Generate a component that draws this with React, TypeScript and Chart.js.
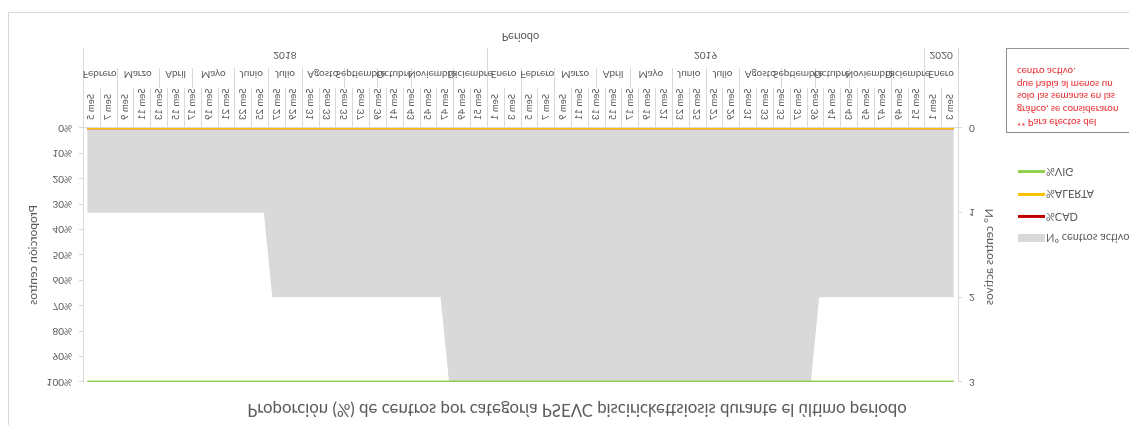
import React, { useEffect, useRef } from "react";
import { Chart, registerables } from "chart.js";

Chart.register(...registerables);

// ---------- text ----------
const chartTitle =
  "Proporción (%) de centros por categoría PSEVC piscirickettsiosis durante el último periodo";
const xTitle = "Periodo";
const yTitle = "Proporción centros";
const y1Title = "N° centros activos";
const noteLines = [
  "** Para efectos del",
  "gráfico, se consideraron",
  "solo las semanas en las",
  "que había al menos un",
  "centro activo.",
];

// ---------- categories (year / month / ISO week) ----------
const years = ["2018", "2019", "2020"];
const months2018 = ["Febrero", "Marzo", "Abril", "Mayo", "Junio", "Julio", "Agosto", "Septiembre", "Octubre", "Noviembre", "Diciembre"];
const weeks2018 = [
  [5, 6, 7, 8], [9, 10, 11, 12, 13], [14, 15, 16, 17], [18, 19, 20, 21, 22], [23, 24, 25, 26],
  [27, 28, 29, 30], [31, 32, 33, 34, 35], [36, 37, 38, 39], [40, 41, 42, 43], [44, 45, 46, 47, 48], [49, 50, 51, 52],
];
const months2019 = ["Enero", "Febrero", "Marzo", "Abril", "Mayo", "Junio", "Julio", "Agosto", "Septiembre", "Octubre", "Noviembre", "Diciembre"];
const weeks2019 = [
  [1, 2, 3, 4], [5, 6, 7, 8], [9, 10, 11, 12, 13], [14, 15, 16, 17], [18, 19, 20, 21, 22], [23, 24, 25, 26],
  [27, 28, 29, 30], [31, 32, 33, 34, 35], [36, 37, 38, 39], [40, 41, 42, 43], [44, 45, 46, 47, 48], [49, 50, 51, 52],
];
const months2020 = ["Enero"];
const weeks2020 = [[1, 2, 3, 4]];

// ---------- series ----------
const centrosActivos = [
  1, 1, 1, 1, 1, 1, 1, 1, 1, 1, 1, 1, 1, 1, 1, 1, 1, 1, 1, 1, 1, 1,
  2, 2, 2, 2, 2, 2, 2, 2, 2, 2, 2, 2, 2, 2, 2, 2, 2, 2, 2, 2, 2,
  3, 3, 3, 3, 3, 3, 3, 3, 3, 3, 3, 3, 3, 3, 3, 3, 3, 3, 3, 3, 3, 3,
  3, 3, 3, 3, 3, 3, 3, 3, 3, 3, 3, 3, 3, 3, 3, 3, 3, 3, 3, 3, 3, 3,
  2, 2, 2, 2, 2, 2, 2, 2, 2, 2, 2, 2, 2, 2, 2, 2, 2,
];
const pctVIG = [
  100, 100, 100, 100, 100, 100, 100, 100, 100, 100, 100, 100, 100, 100, 100, 100, 100, 100, 100, 100, 100, 100, 100, 100, 100, 100,
  100, 100, 100, 100, 100, 100, 100, 100, 100, 100, 100, 100, 100, 100, 100, 100, 100, 100, 100, 100, 100, 100, 100, 100, 100, 100,
  100, 100, 100, 100, 100, 100, 100, 100, 100, 100, 100, 100, 100, 100, 100, 100, 100, 100, 100, 100, 100, 100, 100, 100, 100, 100,
  100, 100, 100, 100, 100, 100, 100, 100, 100, 100, 100, 100, 100, 100, 100, 100, 100, 100, 100, 100, 100, 100, 100, 100, 100, 100,
];
const pctALERTA = [
  0, 0, 0, 0, 0, 0, 0, 0, 0, 0, 0, 0, 0, 0, 0, 0, 0, 0, 0, 0, 0, 0, 0, 0, 0, 0,
  0, 0, 0, 0, 0, 0, 0, 0, 0, 0, 0, 0, 0, 0, 0, 0, 0, 0, 0, 0, 0, 0, 0, 0, 0, 0,
  0, 0, 0, 0, 0, 0, 0, 0, 0, 0, 0, 0, 0, 0, 0, 0, 0, 0, 0, 0, 0, 0, 0, 0, 0, 0,
  0, 0, 0, 0, 0, 0, 0, 0, 0, 0, 0, 0, 0, 0, 0, 0, 0, 0, 0, 0, 0, 0, 0, 0, 0, 0,
];
const pctCAD = [
  0, 0, 0, 0, 0, 0, 0, 0, 0, 0, 0, 0, 0, 0, 0, 0, 0, 0, 0, 0, 0, 0, 0, 0, 0, 0,
  0, 0, 0, 0, 0, 0, 0, 0, 0, 0, 0, 0, 0, 0, 0, 0, 0, 0, 0, 0, 0, 0, 0, 0, 0, 0,
  0, 0, 0, 0, 0, 0, 0, 0, 0, 0, 0, 0, 0, 0, 0, 0, 0, 0, 0, 0, 0, 0, 0, 0, 0, 0,
  0, 0, 0, 0, 0, 0, 0, 0, 0, 0, 0, 0, 0, 0, 0, 0, 0, 0, 0, 0, 0, 0, 0, 0, 0, 0,
];

// ---------- build category table ----------
type Cat = { year: string; month: string; week: number };
const yearTable: [string, string[], number[][]][] = [
  [years[0], months2018, weeks2018],
  [years[1], months2019, weeks2019],
  [years[2], months2020, weeks2020],
];
const cats: Cat[] = [];
yearTable.forEach(([y, ms, ws]) => ms.forEach((m, i) => ws[i].forEach((w) => cats.push({ year: y, month: m, week: w }))));
const weekLabels = cats.map((c) => "Sem " + c.week);

const TEXT = "#595959";
const LINE = "#d9d9d9";
const FONT = "Lato";

const W = 1129;
const H = 425;

const axisPlugin = {
  id: "multiLevelAxis",
  afterDraw(chart: any) {
    const ctx = chart.ctx as CanvasRenderingContext2D;
    const xs = chart.scales.x;
    const area = chart.chartArea;
    const n = cats.length;
    const half = (xs.getPixelForValue(1) - xs.getPixelForValue(0)) / 2;
    const bnd = (i: number) => (i >= n ? xs.getPixelForValue(n - 1) + half : xs.getPixelForValue(i) - half);
    const px = (v: number) => Math.round(v) + 0.5;
    const base = area.bottom;
    const weekRowEnd = base + 40;
    const monthRowEnd = base + 60;
    const yearRowEnd = base + 80;

    ctx.save();
    ctx.strokeStyle = LINE;
    ctx.lineWidth = 1;
    ctx.beginPath();
    // week separators (every second week)
    for (let i = 0; i <= n; i += 2) {
      ctx.moveTo(px(bnd(i)), base);
      ctx.lineTo(px(bnd(i)), weekRowEnd);
    }
    const monthStarts: number[] = [];
    const yearStarts: number[] = [];
    cats.forEach((c, i) => {
      if (i === 0 || c.month !== cats[i - 1].month || c.year !== cats[i - 1].year) monthStarts.push(i);
      if (i === 0 || c.year !== cats[i - 1].year) yearStarts.push(i);
    });
    monthStarts.push(n);
    yearStarts.push(n);
    monthStarts.forEach((i) => {
      ctx.moveTo(px(bnd(i)), weekRowEnd);
      ctx.lineTo(px(bnd(i)), monthRowEnd);
    });
    yearStarts.forEach((i) => {
      ctx.moveTo(px(bnd(i)), base);
      ctx.lineTo(px(bnd(i)), yearRowEnd);
    });
    ctx.stroke();

    ctx.fillStyle = TEXT;
    // week labels
    ctx.font = `9.5px ${FONT}`;
    ctx.textAlign = "right";
    ctx.textBaseline = "middle";
    for (let i = 0; i < n; i += 2) {
      ctx.save();
      ctx.translate(bnd(i + 1), base + 8);
      ctx.rotate(-Math.PI / 2);
      ctx.fillText(weekLabels[i], 0, 0);
      ctx.restore();
    }
    // month labels
    ctx.font = `10px ${FONT}`;
    ctx.textAlign = "center";
    for (let k = 0; k < monthStarts.length - 1; k++) {
      const a = monthStarts[k];
      const b = monthStarts[k + 1];
      ctx.fillText(cats[a].month, (bnd(a) + bnd(b)) / 2, base + 54);
    }
    // year labels
    for (let k = 0; k < yearStarts.length - 1; k++) {
      const a = yearStarts[k];
      const b = yearStarts[k + 1];
      ctx.fillText(cats[a].year, (bnd(a) + bnd(b)) / 2, base + 73);
    }
    // axis titles
    ctx.font = `11px ${FONT}`;
    ctx.fillText(xTitle, (area.left + area.right) / 2, base + 91);
    const midY = (area.top + area.bottom) / 2;
    ctx.font = `12px ${FONT}`;
    ctx.save();
    ctx.translate(33, midY);
    ctx.rotate(-Math.PI / 2);
    ctx.fillText(yTitle, 0, 0);
    ctx.restore();
    ctx.save();
    ctx.translate(989, midY - 2);
    ctx.rotate(-Math.PI / 2);
    ctx.fillText(y1Title, 0, 0);
    ctx.restore();
    // chart title
    ctx.font = `16.8px ${FONT}`;
    ctx.fillText(chartTitle, 577, 16);
    ctx.restore();
  },
};

const legendItems = [
  { label: "N° centros activos", color: "#d9d9d9", box: true, y: 186.7 },
  { label: "%CAD", color: "#c00000", box: false, y: 208.3 },
  { label: "%ALERTA", color: "#ffc000", box: false, y: 230.7 },
  { label: "%VIG", color: "#92d050", box: false, y: 253.3 },
];

export default function App() {
  const ref = useRef<HTMLCanvasElement>(null);

  useEffect(() => {
    if (!ref.current) return;
    Chart.defaults.font.family = FONT;
    const chart = new Chart(ref.current, {
      type: "line",
      data: {
        labels: weekLabels,
        datasets: [
          {
            label: "%VIG",
            data: pctVIG,
            yAxisID: "y",
            borderColor: "#92d050",
            backgroundColor: "#92d050",
            borderWidth: 2.75,
            pointRadius: 0,
            fill: false,
            order: 1,
          },
          {
            label: "%ALERTA",
            data: pctALERTA,
            yAxisID: "y",
            borderColor: "#ffc000",
            backgroundColor: "#ffc000",
            borderWidth: 2.75,
            pointRadius: 0,
            fill: false,
            order: 2,
          },
          {
            label: "%CAD",
            data: pctCAD,
            yAxisID: "y",
            borderColor: "#c00000",
            backgroundColor: "#c00000",
            borderWidth: 2.75,
            pointRadius: 0,
            fill: false,
            order: 3,
          },
          {
            label: "N° centros activos",
            data: centrosActivos,
            yAxisID: "y1",
            borderColor: "#d9d9d9",
            backgroundColor: "#d9d9d9",
            borderWidth: 0,
            pointRadius: 0,
            fill: "origin",
            order: 10,
          },
        ],
      },
      options: {
        animation: false,
        responsive: false,
        devicePixelRatio: 1,
        layout: { padding: { top: 43, left: 0, right: 0, bottom: 0 } },
        plugins: {
          legend: { display: false },
          tooltip: { enabled: false },
          title: { display: false },
        },
        elements: { line: { tension: 0 } },
        scales: {
          x: {
            type: "category",
            offset: true,
            grid: { display: true, drawOnChartArea: false, drawTicks: false, color: LINE },
            border: { display: true, color: LINE },
            ticks: { display: false },
            afterFit: (s: any) => {
              s.height = 128;
            },
          },
          y: {
            position: "left",
            min: 0,
            max: 100,
            ticks: {
              stepSize: 10,
              callback: (v: any) => v + "%",
              color: TEXT,
              font: { family: FONT, size: 10 },
              padding: 7,
            },
            grid: { drawOnChartArea: false, drawTicks: true, tickLength: 4, color: LINE },
            border: { display: true, color: LINE },
            afterFit: (s: any) => {
              s.width = 83;
            },
          },
          y1: {
            position: "right",
            min: 0,
            max: 3,
            ticks: {
              stepSize: 1,
              color: TEXT,
              font: { family: FONT, size: 10 },
              padding: 7,
            },
            grid: { drawOnChartArea: false, drawTicks: true, tickLength: 4, color: LINE },
            border: { display: true, color: LINE },
            afterFit: (s: any) => {
              s.width = 171;
            },
          },
        },
      } as any,
      plugins: [axisPlugin],
    });
    return () => chart.destroy();
  }, []);

  return (
    <div
      style={{
        position: "absolute",
        left: 0,
        top: 0,
        width: W,
        height: H,
        overflow: "hidden",
        background: "#ffffff",
        transform: "scaleY(-1)",
        fontFamily: FONT,
      }}
    >
      {/* chart frame */}
      <div style={{ position: "absolute", left: 8, top: 0, width: 1, height: 413, background: LINE }} />
      <div style={{ position: "absolute", left: 8, top: 412, width: W - 8, height: 1, background: LINE }} />
      <canvas ref={ref} width={W} height={H} style={{ position: "absolute", left: 0, top: 0, display: "block" }} />
      {/* note box */}
      <div
        style={{
          position: "absolute",
          left: 1006,
          top: 292,
          width: 150,
          height: 85,
          border: "1.5px solid #8c8c8c",
          boxSizing: "border-box",
        }}
      />
      {noteLines.map((t, i) => (
        <div
          key={t}
          style={{
            position: "absolute",
            left: 1017,
            top: 302 + i * 12.8 - 7,
            height: 14,
            lineHeight: "14px",
            fontSize: 9.8,
            color: "#e8272b",
            whiteSpace: "nowrap",
          }}
        >
          {t}
        </div>
      ))}
      {/* legend */}
      {legendItems.map((it) => (
        <React.Fragment key={it.label}>
          <div
            style={{
              position: "absolute",
              left: 1018,
              top: it.box ? it.y - 4 : it.y - 1.5,
              width: 27,
              height: it.box ? 8 : 3,
              background: it.color,
            }}
          />
          <div
            style={{
              position: "absolute",
              left: 1046,
              top: it.y - 8,
              height: 16,
              lineHeight: "16px",
              fontSize: 11,
              color: TEXT,
              whiteSpace: "nowrap",
            }}
          >
            {it.label}
          </div>
        </React.Fragment>
      ))}
    </div>
  );
}
